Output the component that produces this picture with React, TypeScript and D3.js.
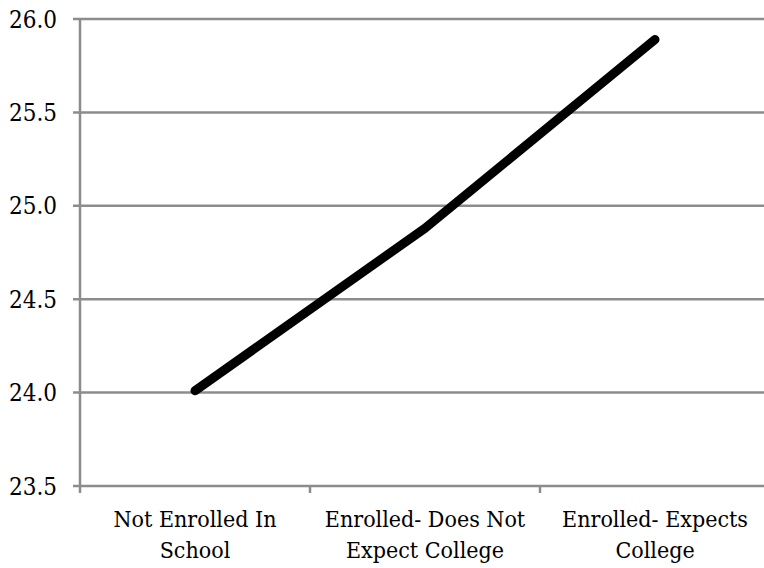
import React from "react";
import * as d3 from "d3";

const categories = [
  ["Not Enrolled In", "School"],
  ["Enrolled- Does Not", "Expect College"],
  ["Enrolled- Expects", "College"],
];
const values = [24.01, 24.88, 25.89];
const yTicks = [23.5, 24.0, 24.5, 25.0, 25.5, 26.0];

const W = 764;
const H = 568;
const left = 80;
const right = 770;
const top = 19;
const bottom = 486;

export default function App() {
  const x = d3
    .scaleBand<number>()
    .domain(categories.map((_, i) => i))
    .range([left, right]);
  const y = d3.scaleLinear().domain([23.5, 26.0]).range([bottom, top]);
  const line = d3
    .line<number>()
    .x((_, i) => (x(i) ?? 0) + x.bandwidth() / 2)
    .y((d) => y(d));
  const grid = "#8c8c8c";
  const textStyle = {
    fontFamily: '"DejaVu Serif Condensed", "DejaVu Serif", serif',
    fontStretch: "condensed",
  };

  return (
    <svg
      width={W}
      height={H}
      style={{ position: "absolute", left: 0, top: 0, background: "#fff" }}
    >
      {yTicks.map((t) => (
        <g key={t}>
          <line x1={left - 7} x2={W} y1={y(t)} y2={y(t)} stroke={grid} strokeWidth={2.5} />
          <text
            x={57}
            y={y(t)}
            dy="0.36em"
            textAnchor="end"
            style={{ ...textStyle, fontSize: "24px" }}
            fill="#000"
          >
            {t.toFixed(1)}
          </text>
        </g>
      ))}
      <line x1={left} x2={left} y1={top} y2={bottom + 7} stroke={grid} strokeWidth={2.5} />
      {categories.map((_, i) => (
        <line
          key={"t" + i}
          x1={(x(i) ?? 0) + x.bandwidth()}
          x2={(x(i) ?? 0) + x.bandwidth()}
          y1={bottom}
          y2={bottom + 7}
          stroke={grid}
          strokeWidth={2.5}
        />
      ))}
      {categories.map((lines, i) => (
        <text
          key={"c" + i}
          textAnchor="middle"
          style={{ ...textStyle, fontSize: "23px" }}
          fill="#000"
        >
          {lines.map((l, j) => (
            <tspan key={j} x={(x(i) ?? 0) + x.bandwidth() / 2} y={527 + j * 31}>
              {l}
            </tspan>
          ))}
        </text>
      ))}
      <path
        d={line(values) ?? ""}
        fill="none"
        stroke="#000"
        strokeWidth={9}
        strokeLinecap="round"
        strokeLinejoin="round"
      />
    </svg>
  );
}
